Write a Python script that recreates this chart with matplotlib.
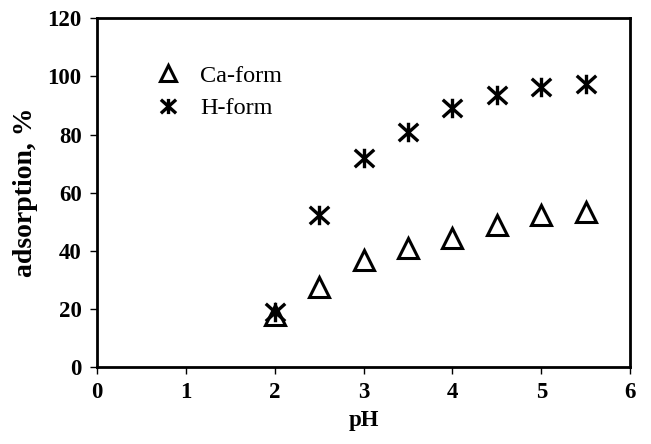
import matplotlib
matplotlib.use("Agg")
import matplotlib.pyplot as plt
from matplotlib.path import Path

ph = [2, 2.5, 3, 3.5, 4, 4.5, 5, 5.5]
ca_form = [18, 27.5, 36.8, 40.9, 44.3, 48.8, 52.2, 53.3]
h_form = [19, 52.2, 71.8, 81, 89, 93.5, 96.2, 97.3]

plt.rcParams['font.family'] = ['Liberation Serif', 'DejaVu Serif']

# excel style star: an X with a vertical bar through it
star = Path([(-1, -0.9), (1, 0.9), (-1, 0.9), (1, -0.9), (0, -1), (0, 1)],
            [Path.MOVETO, Path.LINETO, Path.MOVETO, Path.LINETO, Path.MOVETO, Path.LINETO])

fig = plt.figure(figsize=(6.51, 4.44), dpi=100)
ax = fig.add_axes([0.149, 0.173, 0.819, 0.786])

ax.plot(ph, ca_form, linestyle='none', marker='^', markersize=14,
        markerfacecolor='none', markeredgecolor='black', markeredgewidth=2.2, label='Ca-form')
ax.plot(ph, h_form, linestyle='none', marker=star, markersize=14,
        markeredgecolor='black', markeredgewidth=2.4, label='H-form')

ax.set_xlim(0, 6)
ax.set_ylim(0, 120)
ax.set_xticks(range(0, 7))
ax.set_yticks(range(0, 121, 20))
for lbl in ax.get_xticklabels() + ax.get_yticklabels():
    lbl.set_fontweight('bold')
    lbl.set_fontsize(16.5)
ax.tick_params(direction='out', length=5, width=1, pad=6)

for s in ax.spines.values():
    s.set_linewidth(2)

ax.set_xlabel('pH', fontsize=16.5, fontweight='bold', labelpad=5)
ax.set_ylabel('adsorption, %', fontsize=20, fontweight='bold', labelpad=7)

ax.legend(loc='upper left', bbox_to_anchor=(0.07, 0.93), frameon=False,
          fontsize=17.5, handletextpad=0.8, labelspacing=0.45, markerscale=0.78,
          handlelength=1.0)

fig.savefig('out.png', dpi=100)
